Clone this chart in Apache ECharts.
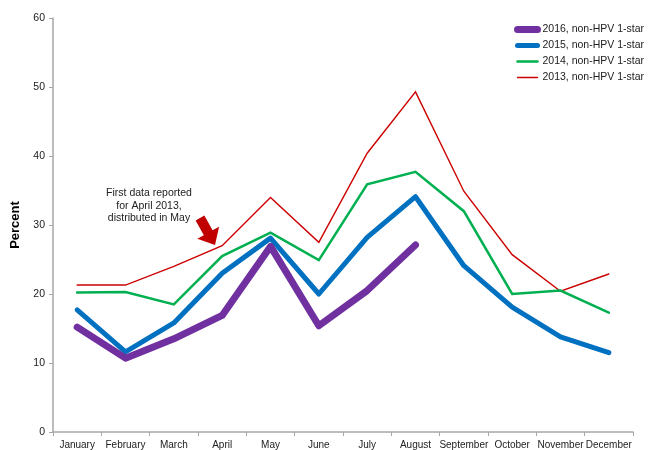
<!DOCTYPE html>
<html>
<head>
<meta charset="utf-8">
<script src="https://cdn.jsdelivr.net/npm/echarts@6/dist/echarts.min.js"></script>
<style>
html,body{margin:0;padding:0;background:#fff;}
#chart{width:649px;height:450px;}
</style>
</head>
<body>
<div id="chart"></div>
<script>
var months = ['January','February','March','April','May','June','July','August','September','October','November','December'];
var yTicks = [0, 10, 20, 30, 40, 50, 60];
var s2016 = [15.2, 10.7, 13.5, 16.9, 26.9, 15.4, 20.5, 27.1];
var s2015 = [17.7, 11.6, 15.8, 23.0, 28.1, 20.0, 28.2, 34.1, 24.1, 18.1, 13.8, 11.5];
var s2014 = [20.2, 20.3, 18.5, 25.5, 28.9, 24.9, 35.9, 37.7, 32.0, 20.0, 20.5, 17.3];
var s2013 = [21.3, 21.3, 24.0, 27.0, 34.0, 27.5, 40.4, 49.3, 34.9, 25.7, 20.4, 22.9];
var names = ['2016, non-HPV 1-star','2015, non-HPV 1-star','2014, non-HPV 1-star','2013, non-HPV 1-star'];
var noteLines = ['First data reported', 'for April 2013,', 'distributed in May'];

var font = 'Liberation Sans, Arial, sans-serif';
var colors = ['#7030A0', '#0070C0', '#00B050', '#CC0000'];
var widths = [7, 5, 2.5, 1.4];
var chart = echarts.init(document.getElementById('chart'), null, {renderer:'canvas'});

function mk(i, data) {
  return {
    name: names[i], type: 'line', data: data, symbol: 'none', z: 5 - i,
    lineStyle: {color: colors[i], width: widths[i], cap: 'round', join: widths[i] > 3 ? 'round' : 'miter'},
    itemStyle: {color: colors[i]},
    emphasis: {disabled: true}, animation: false
  };
}

// arrow polygon (annotation)
var tail = [200, 218], tip = [215, 245];
var dx = tip[0]-tail[0], dy = tip[1]-tail[1], L = Math.sqrt(dx*dx+dy*dy);
var d = [dx/L, dy/L], p = [-d[1], d[0]];
var hw = 5, hh = 12.5, hl = 14;
var B = [tip[0]-hl*d[0], tip[1]-hl*d[1]];
function pt(base, k){ return [base[0]+k*p[0], base[1]+k*p[1]]; }
var arrowPts = [pt(tail,-hw), pt(B,-hw), pt(B,-hh), tip, pt(B,hh), pt(B,hw), pt(tail,hw)];

chart.setOption({
  animation: false,
  backgroundColor: '#fff',
  grid: {left: 53, right: 16, top: 18, bottom: 14, containLabel: false},
  legend: {
    orient: 'vertical', left: 509, top: 19,
    itemWidth: 20, itemHeight: 10, itemGap: 5,
    data: names.map(function(n, i){
      return {name: n, lineStyle: {width: widths[i], color: colors[i], cap: 'round'}};
    }),
    itemStyle: {opacity: 0},
    textStyle: {fontFamily: font, fontSize: 10.5, color: '#222'},
    selectedMode: false
  },
  xAxis: {
    type: 'category', data: months, boundaryGap: true,
    axisLine: {lineStyle: {color: '#A6A6A6', width: 1.5}},
    axisTick: {show: true, length: 4, lineStyle: {color: '#A6A6A6'}},
    axisLabel: {fontFamily: font, fontSize: 10, color: '#222', margin: 8, interval: 0}
  },
  yAxis: {
    type: 'value', min: yTicks[0], max: yTicks[yTicks.length-1], interval: 10,
    name: 'Percent', nameLocation: 'middle', nameGap: 27, nameRotate: 90,
    nameTextStyle: {fontFamily: font, fontSize: 13, fontWeight: 'bold', color: '#000'},
    axisLine: {show: true, lineStyle: {color: '#A6A6A6', width: 1.5}},
    axisTick: {show: true, length: 4, lineStyle: {color: '#A6A6A6'}},
    splitLine: {show: false},
    axisLabel: {fontFamily: font, fontSize: 10.5, color: '#222', margin: 8}
  },
  series: [
    mk(0, s2016),
    mk(1, s2015),
    mk(2, s2014),
    mk(3, s2013)
  ],
  graphic: [
    {type: 'text', x: 149, y: 187, style: {
      text: noteLines.join('\n'), fontFamily: font, fontSize: 10.5, fill: '#222',
      align: 'center', verticalAlign: 'top', lineHeight: 12.5
    }},
    {type: 'polygon', shape: {points: arrowPts}, style: {fill: '#C00000'}, z: 10}
  ]
});
</script>
</body>
</html>
